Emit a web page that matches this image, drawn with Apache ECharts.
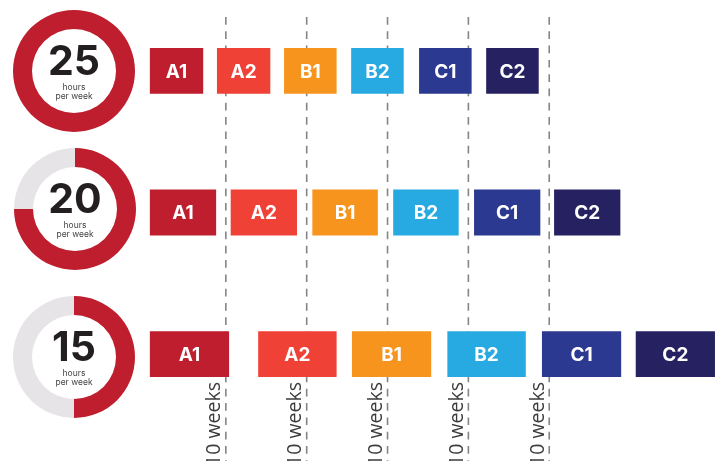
<!DOCTYPE html>
<html>
<head>
<meta charset="utf-8">
<script src="https://cdn.jsdelivr.net/npm/echarts@6/dist/echarts.min.js"></script>
<style>
html,body{margin:0;padding:0;background:#fff;}
#chart{width:720px;height:461px;}
</style>
</head>
<body>
<div id="chart"></div>
<script>
// ---- data ----
const hoursPerWeek = ['25', '20', '15'];
const filledShare = [100, 75, 50];
const levels = ['A1', 'A2', 'B1', 'B2', 'C1', 'C2'];
const levelColors = ['#BE1E2D', '#EF4136', '#F7941D', '#27AAE1', '#2B3990', '#262262'];
// start / end of each level, in weeks
const start25 = [0.6, 8.9, 17.2, 25.5, 33.9, 42.2];
const end25   = [7.2, 15.5, 23.7, 32.0, 40.4, 48.7];
const start20 = [0.6, 10.6, 20.7, 30.7, 40.7, 50.6];
const end20   = [8.8, 18.8, 28.8, 38.8, 48.9, 58.8];
const start15 = [0.6, 14.0, 25.6, 37.4, 49.1, 60.7];
const end15   = [10.4, 23.7, 35.4, 47.1, 58.9, 70.5];
const weekMarks = [10, 20, 30, 40, 50];
const weekLabels = ['10 weeks', '10 weeks', '10 weeks', '10 weeks', '10 weeks'];

// ---- build ----
const rowStarts = [start25, start20, start15];
const rowEnds = [end25, end20, end15];
const barData = [];
rowStarts.forEach((starts, r) => {
  starts.forEach((s, i) => {
    barData.push([s, rowEnds[r][i], r, i]);
  });
});
const markData = weekMarks.map((w, i) => [w, i]);

const RED = '#BE1E2D', GREY = '#E6E4E6';
const pieCenters = [[74, 71], [75, 209], [74, 357]];
const pies = hoursPerWeek.map((h, r) => ({
  type: 'pie',
  silent: true,
  radius: [42, 61],
  center: pieCenters[r],
  startAngle: 90,
  clockwise: true,
  avoidLabelOverlap: false,
  labelLine: {show: false},
  emphasis: {disabled: true},
  itemStyle: {borderWidth: 0},
  data: [
    {value: filledShare[r], itemStyle: {color: RED},
     label: {show: true, position: 'center',
       formatter: '{n|' + h + '}\n{h|hours}\n{h|per week}',
       rich: {
         n: {fontFamily: 'Inter', fontWeight: 'bold', fontSize: 41, lineHeight: 42, color: '#231F20', align: 'center'},
         h: {fontFamily: 'Inter', fontSize: 8.5, lineHeight: 8.5, color: '#444', align: 'center'}
       }}},
    {value: 100 - filledShare[r], itemStyle: {color: GREY}, label: {show: false}}
  ]
}));

const option = {
  animation: false,
  backgroundColor: '#fff',
  grid: [
    {left: 145, right: 1, top: -1, height: 426},
    {left: 145, right: 1, top: 17, bottom: 0}
  ],
  xAxis: [
    {type: 'value', gridIndex: 0, min: 0, max: 71, show: false},
    {type: 'value', gridIndex: 1, min: 0, max: 71, show: false}
  ],
  yAxis: [
    {type: 'category', gridIndex: 0, data: hoursPerWeek, inverse: true, show: false},
    {type: 'value', gridIndex: 1, min: 0, max: 1, show: false}
  ],
  series: [
    {
      type: 'custom', xAxisIndex: 1, yAxisIndex: 1, silent: true, z: 1,
      data: markData,
      renderItem: function (params, api) {
        const w = api.value(0);
        const idx = api.value(1);
        const top = api.coord([w, 1]);
        const bot = api.coord([w, 0]);
        return {
          type: 'group',
          children: [
            {type: 'line', shape: {x1: top[0], y1: top[1], x2: bot[0], y2: bot[1]},
             style: {stroke: '#858585', lineWidth: 1.6, lineDash: [7.7, 6.6]}},
            {type: 'text', x: bot[0] - 1, y: bot[1] - 79, rotation: Math.PI / 2,
             style: {text: weekLabels[idx], fontFamily: 'Open Sans', fontSize: 19.5,
               fill: '#3c3c3c', align: 'right', verticalAlign: 'bottom'}}
          ]
        };
      }
    },
    {
      type: 'custom', xAxisIndex: 0, yAxisIndex: 0, silent: true, z: 3,
      data: barData,
      renderItem: function (params, api) {
        const a = api.coord([api.value(0), api.value(2)]);
        const b = api.coord([api.value(1), api.value(2)]);
        const h = api.size([0, 1])[1] * 0.324;
        const li = api.value(3);
        return {
          type: 'group',
          children: [
            {type: 'rect', shape: {x: a[0], y: a[1] - h / 2, width: b[0] - a[0], height: h},
             style: {fill: levelColors[li]}},
            {type: 'text', x: (a[0] + b[0]) / 2, y: a[1] + 1,
             style: {text: levels[li], fontFamily: 'Inter', fontWeight: 'bold', fontSize: 19,
               fill: '#fff', align: 'center', verticalAlign: 'middle'}}
          ]
        };
      }
    }
  ].concat(pies)
};

const chart = echarts.init(document.getElementById('chart'), null, {renderer: 'canvas'});
chart.setOption(option);
</script>
</body>
</html>
